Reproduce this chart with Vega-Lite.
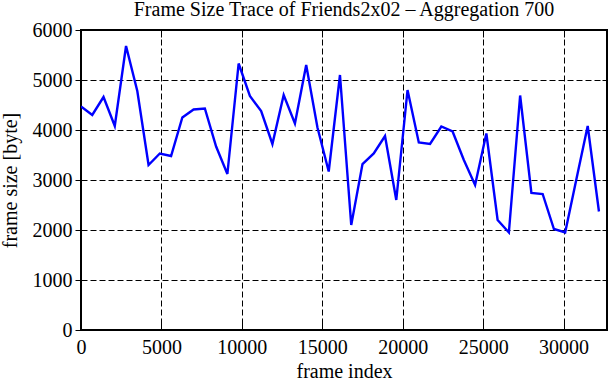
{
  "$schema": "https://vega.github.io/schema/vega-lite/v6.json",
  "width": 526,
  "height": 300,
  "autosize": "none",
  "padding": {"left": 81, "top": 30, "right": 4, "bottom": 50},
  "background": "white",
  "title": {
    "text": "Frame Size Trace of Friends2x02 – Aggregation 700",
    "font": "Liberation Serif",
    "fontSize": 20,
    "fontWeight": "normal",
    "color": "black",
    "anchor": "middle",
    "baseline": "alphabetic",
    "offset": -16
  },
  "data": {
    "values": [
      {"frame": 0, "size": 4470},
      {"frame": 700, "size": 4300},
      {"frame": 1400, "size": 4660},
      {"frame": 2100, "size": 4080},
      {"frame": 2800, "size": 5680},
      {"frame": 3500, "size": 4780},
      {"frame": 4200, "size": 3300},
      {"frame": 4900, "size": 3530},
      {"frame": 5600, "size": 3480},
      {"frame": 6300, "size": 4250},
      {"frame": 7000, "size": 4410},
      {"frame": 7700, "size": 4430},
      {"frame": 8400, "size": 3670},
      {"frame": 9100, "size": 3120},
      {"frame": 9800, "size": 5330},
      {"frame": 10500, "size": 4680},
      {"frame": 11200, "size": 4380},
      {"frame": 11900, "size": 3720},
      {"frame": 12600, "size": 4700},
      {"frame": 13300, "size": 4130},
      {"frame": 14000, "size": 5300},
      {"frame": 14700, "size": 4050},
      {"frame": 15400, "size": 3170},
      {"frame": 16100, "size": 5100},
      {"frame": 16800, "size": 2100},
      {"frame": 17500, "size": 3320},
      {"frame": 18200, "size": 3530},
      {"frame": 18900, "size": 3880},
      {"frame": 19600, "size": 2600},
      {"frame": 20300, "size": 4800},
      {"frame": 21000, "size": 3750},
      {"frame": 21700, "size": 3720},
      {"frame": 22400, "size": 4070},
      {"frame": 23100, "size": 3970},
      {"frame": 23800, "size": 3400},
      {"frame": 24500, "size": 2900},
      {"frame": 25200, "size": 3930},
      {"frame": 25900, "size": 2200},
      {"frame": 26600, "size": 1950},
      {"frame": 27300, "size": 4690},
      {"frame": 28000, "size": 2740},
      {"frame": 28700, "size": 2720},
      {"frame": 29400, "size": 2020},
      {"frame": 30100, "size": 1950},
      {"frame": 30800, "size": 3020},
      {"frame": 31500, "size": 4080},
      {"frame": 32200, "size": 2370}
    ]
  },
  "layer": [
    {
      "mark": {"type": "line", "color": "#0000ff", "strokeWidth": 2.4, "clip": true},
      "encoding": {
        "x": {
          "field": "frame", "type": "quantitative",
          "scale": {"domain": [0, 32700], "nice": false, "zero": false},
          "axis": {
            "orient": "bottom",
            "title": "frame index",
            "values": [0, 5000, 10000, 15000, 20000, 25000, 30000],
            "format": "d",
            "ticks": false,
            "domain": false,
            "grid": true,
            "gridColor": "black",
            "gridDash": [6, 3],
            "gridWidth": 1,
            "gridOpacity": 1,
            "labelPadding": 7,
            "labelFlush": false,
            "labelFont": "Liberation Serif",
            "labelFontSize": 20,
            "labelColor": "black",
            "titleFont": "Liberation Serif",
            "titleFontSize": 20,
            "titleFontWeight": "normal",
            "titleColor": "black",
            "titleBaseline": "alphabetic",
            "titleY": 47
          }
        },
        "y": {
          "field": "size", "type": "quantitative",
          "scale": {"domain": [0, 6000], "nice": false},
          "axis": {
            "orient": "left",
            "title": "frame size [byte]",
            "values": [0, 1000, 2000, 3000, 4000, 5000, 6000],
            "format": "d",
            "ticks": true,
            "tickSize": 6,
            "tickColor": "black",
            "tickWidth": 1,
            "domain": false,
            "grid": true,
            "gridColor": "black",
            "gridDash": [6, 3],
            "gridWidth": 1,
            "gridOpacity": 1,
            "labelPadding": 3,
            "labelFlush": false,
            "labelFont": "Liberation Serif",
            "labelFontSize": 20,
            "labelColor": "black",
            "titleFont": "Liberation Serif",
            "titleFontSize": 20,
            "titleFontWeight": "normal",
            "titleColor": "black",
            "titleAngle": 270,
            "titleBaseline": "middle",
            "titleAlign": "center",
            "titleX": -71,
            "titleY": 150
          }
        }
      }
    },
    {
      "mark": {"type": "line", "strokeOpacity": 0},
      "encoding": {
        "x": {
          "field": "frame", "type": "quantitative",
          "axis": {
            "orient": "top", "title": null, "labels": false, "domain": false, "grid": false,
            "values": [0, 5000, 10000, 15000, 20000, 25000, 30000],
            "ticks": true, "tickSize": -7, "tickColor": "black", "tickWidth": 1
          }
        },
        "y": {
          "field": "size", "type": "quantitative",
          "axis": {
            "orient": "right", "title": null, "labels": false, "domain": false, "grid": false,
            "values": [0, 1000, 2000, 3000, 4000, 5000, 6000],
            "ticks": true, "tickSize": -5, "tickColor": "black", "tickWidth": 1
          }
        }
      }
    },
    {
      "mark": {"type": "line", "strokeOpacity": 0},
      "encoding": {
        "x": {
          "field": "frame", "type": "quantitative",
          "axis": {
            "orient": "bottom", "title": null, "labels": false, "domain": false, "grid": false,
            "values": [0, 5000, 10000, 15000, 20000, 25000, 30000],
            "ticks": true, "tickSize": -7, "tickColor": "black", "tickWidth": 1
          }
        },
        "y": {"field": "size", "type": "quantitative", "axis": null}
      }
    }
  ],
  "resolve": {"axis": {"x": "independent", "y": "independent"}},
  "config": {
    "view": {"stroke": "black", "strokeWidth": 2}
  }
}
